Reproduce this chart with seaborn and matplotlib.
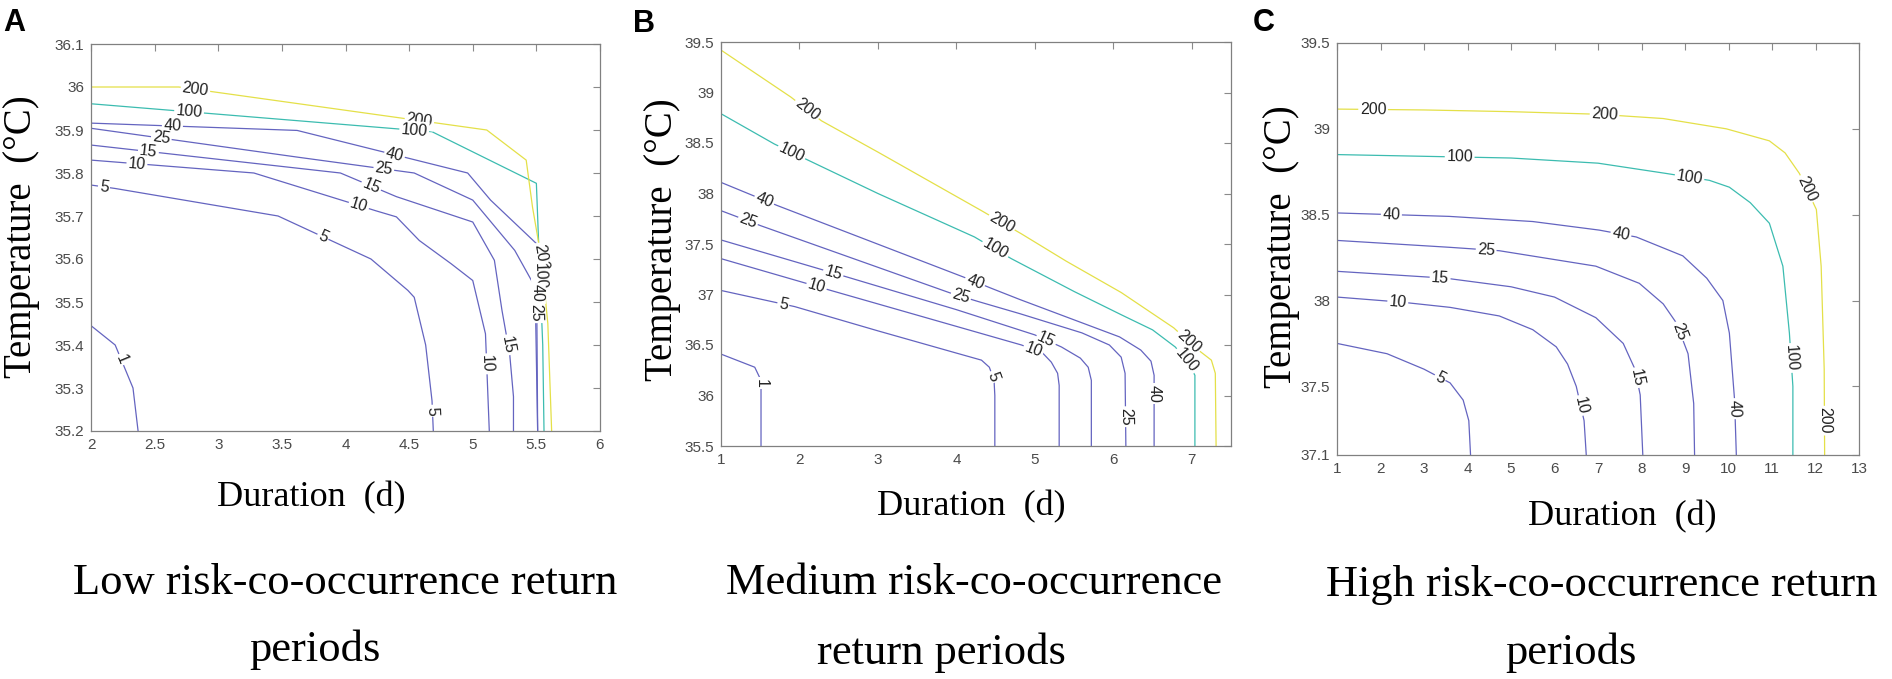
import numpy as np
import pandas as pd
import seaborn as sns
import matplotlib.pyplot as plt

# ---- panel A: low risk ----
A_1 = ([2.0, 2.19, 2.33, 2.37], [35.445, 35.40, 35.30, 35.2])
A_5 = ([2.0, 2.19, 3.47, 4.20, 4.49, 4.54, 4.63, 4.68, 4.69],
       [35.772, 35.764, 35.70, 35.60, 35.527, 35.511, 35.40, 35.27, 35.2])
A_10 = ([2.0, 3.28, 4.24, 4.40, 4.58, 4.83, 5.0, 5.10, 5.13],
        [35.83, 35.80, 35.712, 35.698, 35.643, 35.589, 35.55, 35.426, 35.2])
A_15 = ([2.0, 3.96, 4.40, 5.0, 5.17, 5.23, 5.29, 5.32, 5.32],
        [35.865, 35.80, 35.745, 35.686, 35.597, 35.48, 35.38, 35.28, 35.2])
A_25 = ([2.0, 3.62, 4.54, 5.0, 5.33, 5.49, 5.51],
        [35.904, 35.837, 35.80, 35.737, 35.62, 35.535, 35.2])
A_40 = ([2.0, 3.62, 4.96, 5.14, 5.50, 5.51],
        [35.916, 35.899, 35.80, 35.737, 35.636, 35.2])
A_100 = ([2.0, 4.68, 5.50, 5.52, 5.55, 5.56],
         [35.961, 35.896, 35.776, 35.62, 35.4, 35.2])
A_200 = ([2.0, 2.69, 5.11, 5.42, 5.47, 5.54, 5.59, 5.62],
         [36.0, 36.0, 35.90, 35.83, 35.72, 35.6, 35.45, 35.2])
A_labels = [("200", 2.82, 35.993), ("200", 4.58, 35.92), ("200", 5.56, 35.605),
            ("100", 2.77, 35.94), ("100", 4.54, 35.90), ("100", 5.53, 35.56),
            ("40", 2.64, 35.912), ("40", 4.38, 35.836), ("40", 5.50, 35.52),
            ("25", 2.56, 35.897), ("25", 4.30, 35.807), ("25", 5.50, 35.475),
            ("15", 2.45, 35.847), ("15", 4.20, 35.768), ("15", 5.27, 35.40),
            ("10", 2.36, 35.818), ("10", 4.10, 35.72), ("10", 5.10, 35.356),
            ("5", 2.10, 35.764), ("5", 3.82, 35.65), ("5", 4.68, 35.247),
            ("1", 2.22, 35.364)]
A_xticks = [2, 2.5, 3, 3.5, 4, 4.5, 5, 5.5, 6]
A_xticklabels = ["2", "2.5", "3", "3.5", "4", "4.5", "5", "5.5", "6"]
A_yticks = [35.2, 35.3, 35.4, 35.5, 35.6, 35.7, 35.8, 35.9, 36.0, 36.1]
A_yticklabels = ["35.2", "35.3", "35.4", "35.5", "35.6", "35.7", "35.8", "35.9", "36", "36.1"]

# ---- panel B: medium risk ----
B_1 = ([1.0, 1.43, 1.51, 1.51], [36.41, 36.28, 36.15, 35.5])
B_5 = ([1.0, 1.94, 3.0, 4.0, 4.32, 4.42, 4.48, 4.49, 4.49],
       [37.04, 36.88, 36.64, 36.42, 36.35, 36.28, 36.15, 36.0, 35.5])
B_10 = ([1.0, 2.40, 4.83, 5.10, 5.21, 5.29, 5.31, 5.31],
        [37.355, 37.04, 36.50, 36.42, 36.33, 36.22, 36.1, 35.5])
B_15 = ([1.0, 2.62, 4.0, 5.0, 5.34, 5.58, 5.68, 5.72, 5.72],
        [37.54, 37.17, 36.85, 36.60, 36.48, 36.37, 36.28, 36.15, 35.5])
B_25 = ([1.0, 1.51, 3.94, 4.28, 4.81, 5.6, 5.95, 6.1, 6.15, 6.16],
        [37.83, 37.68, 37.01, 36.93, 36.81, 36.62, 36.5, 36.38, 36.22, 35.5])
B_40 = ([1.0, 1.72, 4.1, 4.45, 4.81, 6.08, 6.35, 6.48, 6.52, 6.52],
        [38.11, 37.88, 37.17, 37.06, 36.95, 36.58, 36.45, 36.34, 36.2, 35.5])
B_100 = ([1.0, 1.68, 2.11, 3.0, 4.23, 4.70, 5.5, 6.1, 6.5, 6.79, 6.95, 7.04, 7.04],
         [38.79, 38.49, 38.33, 38.0, 37.57, 37.355, 37.03, 36.80, 36.65, 36.48, 36.33, 36.20, 35.5])
B_200 = ([1.0, 1.89, 2.28, 3.0, 4.32, 4.83, 5.4, 6.1, 6.77, 7.05, 7.25, 7.30, 7.31],
         [39.42, 38.955, 38.72, 38.41, 37.83, 37.60, 37.33, 37.02, 36.67, 36.47, 36.35, 36.22, 35.5])
B_labels = [("200", 2.085, 38.82), ("200", 4.57, 37.70), ("200", 6.98, 36.55),
            ("100", 1.89, 38.39), ("100", 4.49, 37.44), ("100", 6.93, 36.35),
            ("40", 1.55, 37.93), ("40", 4.23, 37.11), ("40", 6.52, 36.02),
            ("25", 1.34, 37.72), ("25", 4.06, 36.99), ("25", 6.16, 35.79),
            ("15", 2.43, 37.21), ("15", 5.15, 36.56),
            ("10", 2.21, 37.06), ("10", 4.98, 36.45),
            ("5", 1.79, 36.89), ("5", 4.45, 36.18),
            ("1", 1.51, 36.12)]
B_xticks = [1, 2, 3, 4, 5, 6, 7]
B_xticklabels = ["1", "2", "3", "4", "5", "6", "7"]
B_yticks = [35.5, 36, 36.5, 37, 37.5, 38, 38.5, 39, 39.5]
B_yticklabels = ["35.5", "36", "36.5", "37", "37.5", "38", "38.5", "39", "39.5"]

# ---- panel C: high risk ----
C_5 = ([1, 2.15, 3.0, 3.6, 3.9, 4.03, 4.07], [37.75, 37.69, 37.6, 37.52, 37.42, 37.3, 37.1])
C_10 = ([1, 2.5, 3.6, 4.73, 5.5, 6.04, 6.3, 6.5, 6.68, 6.73],
        [38.02, 37.99, 37.96, 37.91, 37.83, 37.73, 37.63, 37.5, 37.3, 37.1])
C_15 = ([1, 3.5, 5, 6, 6.95, 7.58, 7.85, 7.97, 8.03],
        [38.17, 38.13, 38.08, 38.02, 37.90, 37.75, 37.6, 37.45, 37.1])
C_25 = ([1, 3.58, 4.73, 6.95, 7.95, 8.5, 8.8, 9.07, 9.2, 9.22],
        [38.35, 38.31, 38.29, 38.20, 38.10, 37.98, 37.87, 37.69, 37.4, 37.1])
C_40 = ([1, 3.58, 5.5, 7.03, 7.88, 8.95, 9.5, 9.87, 10.02, 10.14, 10.18],
        [38.51, 38.49, 38.46, 38.41, 38.37, 38.26, 38.13, 38.0, 37.81, 37.42, 37.1])
C_100 = ([1, 3, 5, 7, 8.57, 9.56, 10.02, 10.5, 10.94, 11.25, 11.4, 11.48, 11.48],
         [38.85, 38.84, 38.83, 38.80, 38.74, 38.70, 38.66, 38.57, 38.45, 38.2, 37.81, 37.5, 37.1])
C_200 = ([1, 3, 5, 7, 8.5, 9.95, 10.94, 11.3, 11.63, 12.02, 12.13, 12.2, 12.21],
         [39.115, 39.11, 39.10, 39.085, 39.06, 39.0, 38.93, 38.86, 38.74, 38.53, 38.2, 37.6, 37.1])
C_labels = [("200", 1.83, 39.11), ("200", 7.15, 39.08), ("200", 11.79, 38.65), ("200", 12.19, 37.30),
            ("100", 3.82, 38.84), ("100", 9.10, 38.71), ("100", 11.43, 37.665),
            ("40", 2.25, 38.50), ("40", 7.53, 38.39), ("40", 10.15, 37.37),
            ("25", 4.43, 38.30), ("25", 8.87, 37.82),
            ("15", 3.37, 38.13), ("15", 7.88, 37.55),
            ("10", 2.40, 38.0), ("10", 6.63, 37.39),
            ("5", 3.37, 37.55)]
C_xticks = list(range(1, 14))
C_xticklabels = [str(v) for v in C_xticks]
C_yticks = [37.1, 37.5, 38, 38.5, 39, 39.5]
C_yticklabels = ["37.1", "37.5", "38", "38.5", "39", "39.5"]

titles = [("Low risk-co-occurrence return", "periods"),
          ("Medium risk-co-occurrence", "return periods"),
          ("High risk-co-occurrence return", "periods")]
letters = ["A", "B", "C"]

level_colors = {1: "#6464c0", 5: "#6464c0", 10: "#6464c0", 15: "#6464c0",
                25: "#6464c0", 40: "#6464c0", 100: "#3cbcb0", 200: "#e4e048"}

sns.set_theme(style="white")
plt.rcParams["font.family"] = ["Liberation Sans", "DejaVu Sans"]

W, H = 1892, 679
fig = plt.figure(figsize=(W / 100, H / 100), dpi=100, facecolor="white")


def fx(x):
    return x / W


def fy(y):
    return 1 - y / H


def add_ax(x0, y0, x1, y1):
    return fig.add_axes([fx(x0), fy(y1), (x1 - x0) / W, (y1 - y0) / H])


def draw_panel(ax, lines, labels, xlim, ylim, xt, xtl, yt, ytl):
    rows = []
    for lev, (xs, ys) in lines.items():
        for i, (x, y) in enumerate(zip(xs, ys)):
            rows.append((lev, i, x, y))
    df = pd.DataFrame(rows, columns=["level", "order", "x", "y"])
    sns.lineplot(data=df, x="x", y="y", hue="level", palette=level_colors,
                 sort=False, estimator=None, legend=False, ax=ax, linewidth=0.9)
    ax.set_xlim(*xlim)
    ax.set_ylim(*ylim)
    ax.set_xticks(xt)
    ax.set_xticklabels(xtl)
    ax.set_yticks(yt)
    ax.set_yticklabels(ytl)
    ax.set_xlabel("")
    ax.set_ylabel("")
    ax.tick_params(direction="in", top=True, right=True, length=5, width=0.8,
                   color="#8a8a8a", labelcolor="#4a4a4a", labelsize=11, pad=5)
    for sp in ax.spines.values():
        sp.set_color("#808080")
        sp.set_linewidth(0.9)

    # inline contour labels, snapped onto their line and rotated with it
    for txt, lx, ly in labels:
        xs, ys = lines[int(txt)]
        pts = ax.transData.transform(np.column_stack([xs, ys]))
        p = ax.transData.transform((lx, ly))
        best = None
        for i in range(len(pts) - 1):
            a, b = pts[i], pts[i + 1]
            d = b - a
            t = np.clip(np.dot(p - a, d) / np.dot(d, d), 0, 1)
            q = a + t * d
            dist = np.hypot(*(p - q))
            if best is None or dist < best[0]:
                best = (dist, q, np.degrees(np.arctan2(d[1], d[0])))
        _, q, ang = best
        if ang > 90:
            ang -= 180
        if ang < -90:
            ang += 180
        qx, qy = ax.transData.inverted().transform(q)
        ax.text(qx, qy, txt, rotation=ang, rotation_mode="anchor", ha="center",
                va="center", fontsize=11.5, color="#222222", zorder=4,
                bbox=dict(boxstyle="square,pad=0.1", fc="white", ec="none"))


axA = add_ax(91, 44, 600, 431)
draw_panel(axA, {1: A_1, 5: A_5, 10: A_10, 15: A_15, 25: A_25, 40: A_40, 100: A_100, 200: A_200},
           A_labels, (2, 6), (35.2, 36.1), A_xticks, A_xticklabels, A_yticks, A_yticklabels)

axB = add_ax(721, 42, 1231, 446)
draw_panel(axB, {1: B_1, 5: B_5, 10: B_10, 15: B_15, 25: B_25, 40: B_40, 100: B_100, 200: B_200},
           B_labels, (1, 7.5), (35.5, 39.5), B_xticks, B_xticklabels, B_yticks, B_yticklabels)

axC = add_ax(1337, 43, 1859, 455)
draw_panel(axC, {5: C_5, 10: C_10, 15: C_15, 25: C_25, 40: C_40, 100: C_100, 200: C_200},
           C_labels, (1, 13), (37.1, 39.5), C_xticks, C_xticklabels, C_yticks, C_yticklabels)

serif = ["Liberation Serif", "DejaVu Serif"]
xlab_pos = [(311, 498), (971, 507), (1622, 517)]
ylab_pos = [(21, 237), (662, 240), (1281, 247)]
letter_pos = [(3, 8), (633, 9), (1253, 8)]
title_pos = [((345, 583), (315, 650)), ((974, 583), (941, 653)), ((1602, 585), (1571, 653))]

for i in range(3):
    fig.text(fx(xlab_pos[i][0]), fy(xlab_pos[i][1]), "Duration  (d)", family=serif,
             fontsize=26, ha="center", va="center", color="black")
    fig.text(fx(ylab_pos[i][0]), fy(ylab_pos[i][1]), "Temperature  (°C)", family=serif,
             fontsize=28, ha="center", va="center", rotation=90, color="black")
    fig.text(fx(letter_pos[i][0]), fy(letter_pos[i][1]), letters[i], fontsize=22,
             fontweight="bold", ha="left", va="top", color="black",
             family=["Liberation Sans", "DejaVu Sans"])
    for line, (tx, ty) in zip(titles[i], title_pos[i]):
        fig.text(fx(tx), fy(ty), line, family=serif, fontsize=32, ha="center",
                 va="center", color="black")

fig.savefig("out.png", dpi=100, facecolor="white")
